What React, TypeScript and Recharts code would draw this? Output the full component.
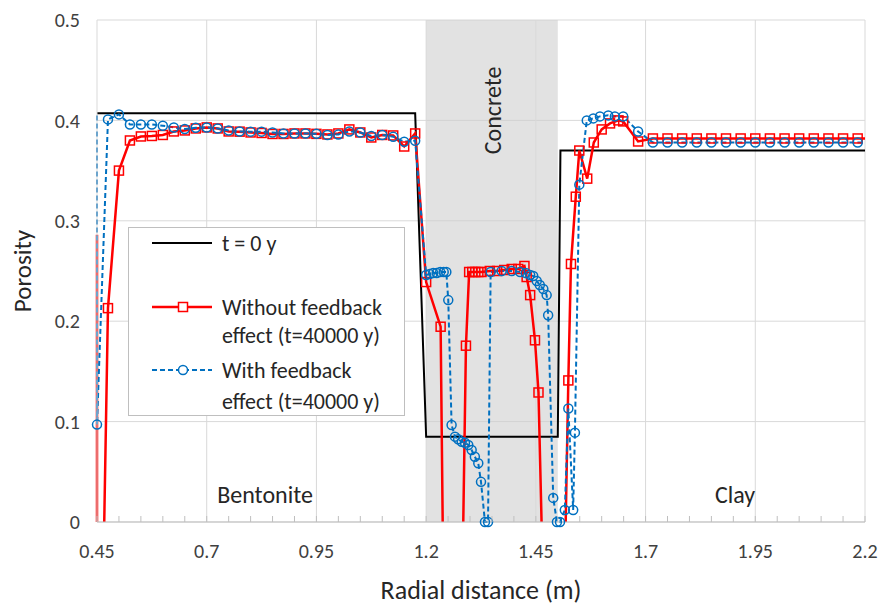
import {
  LineChart,
  Line,
  XAxis,
  YAxis,
  CartesianGrid,
  ReferenceArea,
  ReferenceLine,
  ReferenceDot,
  Label,
  Legend,
} from "recharts";

const FONT = "Carlito, Lato, 'Open Sans', sans-serif";
const RED = "#FF0000";
const BLUE = "#0070C0";

type Pt = { x: number; y: number | null };

// clay cell centres (m)
const clayX = [
  1.7167, 1.75, 1.7833, 1.8167, 1.85, 1.8833, 1.9167, 1.95, 1.9833, 2.0167,
  2.05, 2.0833, 2.1167, 2.15, 2.1833,
];

// t = 0 y
const timeZero: Pt[] = [
  { x: 0.45, y: 0.407 },
  { x: 1.175, y: 0.407 },
  { x: 1.2, y: 0.085 },
  { x: 1.5, y: 0.085 },
  { x: 1.506, y: 0.37 },
  { x: 2.2, y: 0.37 },
];

// without feedback effect (t=40000 y); null = line leaves the plot below 0
const withoutFeedback: Pt[] = [
  { x: 0.45, y: 0.286 }, { x: 0.45, y: 0 }, { x: 0.458, y: null }, { x: 0.4665, y: 0 },
  { x: 0.475, y: 0.213 }, { x: 0.5, y: 0.35 }, { x: 0.525, y: 0.38 }, { x: 0.55, y: 0.384 },
  { x: 0.575, y: 0.3845 }, { x: 0.6, y: 0.3855 }, { x: 0.625, y: 0.389 }, { x: 0.65, y: 0.39 },
  { x: 0.675, y: 0.392 }, { x: 0.7, y: 0.393 }, { x: 0.725, y: 0.392 }, { x: 0.75, y: 0.389 },
  { x: 0.775, y: 0.3888 }, { x: 0.8, y: 0.388 }, { x: 0.825, y: 0.3875 }, { x: 0.85, y: 0.3865 },
  { x: 0.875, y: 0.3865 }, { x: 0.9, y: 0.387 }, { x: 0.925, y: 0.387 }, { x: 0.95, y: 0.3866 },
  { x: 0.975, y: 0.386 }, { x: 1.0, y: 0.387 }, { x: 1.025, y: 0.391 }, { x: 1.05, y: 0.388 },
  { x: 1.075, y: 0.383 }, { x: 1.1, y: 0.3855 }, { x: 1.125, y: 0.385 }, { x: 1.15, y: 0.374 },
  { x: 1.175, y: 0.387 }, { x: 1.2, y: 0.239 }, { x: 1.233, y: 0.1945 }, { x: 1.2377, y: 0 },
  { x: 1.26, y: null }, { x: 1.2846, y: 0 }, { x: 1.2907, y: 0.1756 },
  { x: 1.298, y: 0.249 }, { x: 1.305, y: 0.249 }, { x: 1.312, y: 0.249 }, { x: 1.319, y: 0.249 },
  { x: 1.326, y: 0.249 }, { x: 1.345, y: 0.25 }, { x: 1.362, y: 0.25 }, { x: 1.378, y: 0.251 },
  { x: 1.395, y: 0.252 }, { x: 1.41, y: 0.252 }, { x: 1.424, y: 0.255 },
  { x: 1.429, y: 0.244 }, { x: 1.437, y: 0.226 }, { x: 1.448, y: 0.181 }, { x: 1.456, y: 0.129 },
  { x: 1.463, y: 0 }, { x: 1.49, y: null }, { x: 1.518, y: 0 },
  { x: 1.524, y: 0.141 }, { x: 1.53, y: 0.257 }, { x: 1.541, y: 0.324 }, { x: 1.549, y: 0.37 },
  { x: 1.567, y: 0.342 }, { x: 1.582, y: 0.378 }, { x: 1.6, y: 0.391 }, { x: 1.619, y: 0.397 },
  { x: 1.638, y: 0.4 }, { x: 1.649, y: 0.399 }, { x: 1.683, y: 0.379 },
  ...clayX.map((x) => ({ x, y: 0.382 })),
  { x: 2.2, y: 0.382 },
];

// with feedback effect (t=40000 y)
const withFeedback: Pt[] = [
  { x: 0.45, y: 0.405 }, { x: 0.45, y: 0.097 }, { x: 0.475, y: 0.401 }, { x: 0.5, y: 0.406 },
  { x: 0.525, y: 0.396 }, { x: 0.55, y: 0.396 }, { x: 0.575, y: 0.396 }, { x: 0.6, y: 0.3947 },
  { x: 0.625, y: 0.393 }, { x: 0.65, y: 0.3915 }, { x: 0.675, y: 0.3927 }, { x: 0.7, y: 0.393 },
  { x: 0.725, y: 0.392 }, { x: 0.75, y: 0.39 }, { x: 0.775, y: 0.389 }, { x: 0.8, y: 0.3888 },
  { x: 0.825, y: 0.3888 }, { x: 0.85, y: 0.388 }, { x: 0.875, y: 0.387 }, { x: 0.9, y: 0.387 },
  { x: 0.925, y: 0.387 }, { x: 0.95, y: 0.3866 }, { x: 0.975, y: 0.3855 }, { x: 1.0, y: 0.386 },
  { x: 1.025, y: 0.389 }, { x: 1.05, y: 0.388 }, { x: 1.075, y: 0.3845 }, { x: 1.1, y: 0.3855 },
  { x: 1.125, y: 0.3838 }, { x: 1.15, y: 0.3788 }, { x: 1.175, y: 0.3798 },
  { x: 1.2, y: 0.246 }, { x: 1.208, y: 0.247 }, { x: 1.216, y: 0.248 }, { x: 1.224, y: 0.248 },
  { x: 1.232, y: 0.249 }, { x: 1.24, y: 0.249 }, { x: 1.246, y: 0.249 }, { x: 1.2504, y: 0.221 },
  { x: 1.258, y: 0.0966 }, { x: 1.2657, y: 0.085 }, { x: 1.273, y: 0.0824 }, { x: 1.281, y: 0.08 },
  { x: 1.2885, y: 0.079 }, { x: 1.296, y: 0.0767 }, { x: 1.3037, y: 0.0717 }, { x: 1.311, y: 0.065 },
  { x: 1.3188, y: 0.0585 }, { x: 1.325, y: 0.04 }, { x: 1.334, y: 0 }, { x: 1.341, y: 0 },
  { x: 1.347, y: 0.249 }, { x: 1.372, y: 0.25 }, { x: 1.395, y: 0.25 }, { x: 1.414, y: 0.249 },
  { x: 1.427, y: 0.248 }, { x: 1.437, y: 0.246 }, { x: 1.444, y: 0.245 }, { x: 1.452, y: 0.24 },
  { x: 1.459, y: 0.236 }, { x: 1.467, y: 0.232 }, { x: 1.4746, y: 0.226 }, { x: 1.478, y: 0.206 },
  { x: 1.4896, y: 0.024 }, { x: 1.498, y: 0 }, { x: 1.505, y: 0 }, { x: 1.516, y: 0.012 },
  { x: 1.524, y: 0.113 }, { x: 1.535, y: 0.012 }, { x: 1.539, y: 0.089 }, { x: 1.549, y: 0.336 },
  { x: 1.566, y: 0.4 }, { x: 1.581, y: 0.402 }, { x: 1.596, y: 0.404 }, { x: 1.615, y: 0.405 },
  { x: 1.63, y: 0.404 }, { x: 1.649, y: 0.404 }, { x: 1.683, y: 0.389 },
  ...clayX.map((x) => ({ x, y: 0.378 })),
  { x: 2.2, y: 0.378 },
];

const xMajorTicks = [0.45, 0.7, 0.95, 1.2, 1.45, 1.7, 1.95, 2.2];
const yTicks = [0, 0.1, 0.2, 0.3, 0.4, 0.5];

// minor tick every 0.05 between the labelled ones
const xAllTicks = xMajorTicks.flatMap((v, i) =>
  i === xMajorTicks.length - 1 ? [v] : [0, 1, 2, 3, 4].map((k) => +(v + k * 0.05).toFixed(2))
);

const isMajor = (v: number) => xMajorTicks.some((m) => Math.abs(m - v) < 1e-6);

const XTick = (props: any) => {
  const { x, y, payload } = props;
  return (
    <g>
      <line x1={x} x2={x} y1={y - 6} y2={y} stroke="#bfbfbf" strokeWidth={1} />
      {isMajor(payload.value) && (
        <text
          x={x}
          y={y + 29}
          textAnchor="middle"
          dominantBaseline="central"
          fontSize={20}
          fontFamily={FONT}
          fill="#404040"
        >
          {payload.value}
        </text>
      )}
    </g>
  );
};

const SquareDot = (props: any) => {
  const { cx, cy, index, payload } = props;
  const hide =
    payload.y == null || payload.y <= 0 || index === 0 || index === withoutFeedback.length - 1;
  if (hide || cx == null || cy == null) return <g key={`sq-${index}`} />;
  return (
    <rect
      key={`sq-${index}`}
      x={cx - 4.5}
      y={cy - 4.5}
      width={9}
      height={9}
      fill="none"
      stroke={RED}
      strokeWidth={1.5}
    />
  );
};

const CircleDot = (props: any) => {
  const { cx, cy, index } = props;
  if (index === 0 || index === withFeedback.length - 1 || cx == null || cy == null)
    return <g key={`ci-${index}`} />;
  return <circle key={`ci-${index}`} cx={cx} cy={cy} r={4.5} fill="none" stroke={BLUE} strokeWidth={1.5} />;
};

const LegendBox = () => (
  <svg width={277} height={189} style={{ display: "block" }}>
    <rect x={0.5} y={0.5} width={276} height={188} fill="#fff" stroke="#bfbfbf" />
    <g fontFamily={FONT} fontSize={22} fill="#262626" dominantBaseline="central">
      <line x1={24} x2={84} y1={16} y2={16} stroke="#000" strokeWidth={2} />
      <text x={94} y={16}>t = 0 y</text>

      <line x1={24} x2={84} y1={80} y2={80} stroke={RED} strokeWidth={2.5} />
      <rect x={50.5} y={75.5} width={9} height={9} fill="#fff" stroke={RED} strokeWidth={1.5} />
      <text x={94} y={80}>Without feedback</text>
      <text x={94} y={108}>effect (t=40000 y)</text>

      <line x1={24} x2={84} y1={143} y2={143} stroke={BLUE} strokeWidth={2} strokeDasharray="5 3" />
      <circle cx={55} cy={143} r={4.5} fill="#fff" stroke={BLUE} strokeWidth={1.5} />
      <text x={94} y={143}>With feedback</text>
      <text x={94} y={174}>effect (t=40000 y)</text>
    </g>
  </svg>
);

const zoneLabel = { fontSize: 24, fontFamily: FONT, fill: "#262626" };

export default function App() {
  return (
    <div style={{ position: "absolute", left: 0, top: 0, background: "#fff" }}>
      <LineChart width={883} height={607} margin={{ top: 20, right: 18, bottom: 0, left: 0 }}>
        <CartesianGrid vertical={false} stroke="#d9d9d9" />
        {xMajorTicks.slice(1).map((v) => (
          <ReferenceLine key={v} x={v} stroke="#d9d9d9" />
        ))}
        <ReferenceArea x1={1.2} x2={1.5} y1={0} y2={0.5} fill="#cfcfcf" fillOpacity={0.6} stroke="none" />

        <XAxis
          type="number"
          dataKey="x"
          domain={[0.45, 2.2]}
          ticks={xAllTicks}
          interval={0}
          tick={<XTick />}
          tickLine={false}
          tickSize={0}
          tickMargin={0}
          axisLine={{ stroke: "#bfbfbf" }}
          height={85}
        >
          <Label
            content={(p: any) => (
              <text
                x={p.viewBox.x + p.viewBox.width / 2}
                y={590}
                textAnchor="middle"
                dominantBaseline="central"
                fontSize={26}
                fontFamily={FONT}
                fill="#262626"
              >
                Radial distance (m)
              </text>
            )}
          />
        </XAxis>
        <YAxis
          type="number"
          domain={[0, 0.5]}
          ticks={yTicks}
          interval={0}
          width={97}
          tickLine={false}
          tickSize={0}
          tickMargin={17}
          axisLine={{ stroke: "#d9d9d9" }}
          tick={{ fontSize: 20, fontFamily: FONT, fill: "#404040" }}
        >
          <Label
            content={(p: any) => {
              const cy = p.viewBox.y + p.viewBox.height / 2;
              return (
                <text
                  x={22}
                  y={cy}
                  transform={`rotate(-90, 22, ${cy})`}
                  textAnchor="middle"
                  dominantBaseline="central"
                  fontSize={25}
                  fontFamily={FONT}
                  fill="#262626"
                >
                  Porosity
                </text>
              );
            }}
          />
        </YAxis>

        <Line
          data={timeZero}
          dataKey="y"
          stroke="#000"
          strokeWidth={2}
          dot={false}
          activeDot={false}
          isAnimationActive={false}
        />
        <Line
          data={withoutFeedback}
          dataKey="y"
          stroke={RED}
          strokeWidth={2.5}
          dot={SquareDot}
          activeDot={false}
          connectNulls={false}
          isAnimationActive={false}
        />
        <Line
          data={withFeedback}
          dataKey="y"
          stroke={BLUE}
          strokeWidth={2}
          strokeDasharray="5 3"
          dot={CircleDot}
          activeDot={false}
          isAnimationActive={false}
        />

        <ReferenceDot x={1.352} y={0.41} r={0} fill="none" stroke="none" ifOverflow="visible">
          <Label value="Concrete" position="center" angle={-90} {...zoneLabel} />
        </ReferenceDot>
        <ReferenceDot x={0.833} y={0.027} r={0} fill="none" stroke="none" ifOverflow="visible">
          <Label value="Bentonite" position="center" {...zoneLabel} />
        </ReferenceDot>
        <ReferenceDot x={1.904} y={0.027} r={0} fill="none" stroke="none" ifOverflow="visible">
          <Label value="Clay" position="center" {...zoneLabel} />
        </ReferenceDot>

        <Legend
          layout="vertical"
          align="center"
          verticalAlign="middle"
          wrapperStyle={{ left: 128, top: 227, width: 277, height: 189 }}
          content={() => <LegendBox />}
        />
      </LineChart>
    </div>
  );
}
